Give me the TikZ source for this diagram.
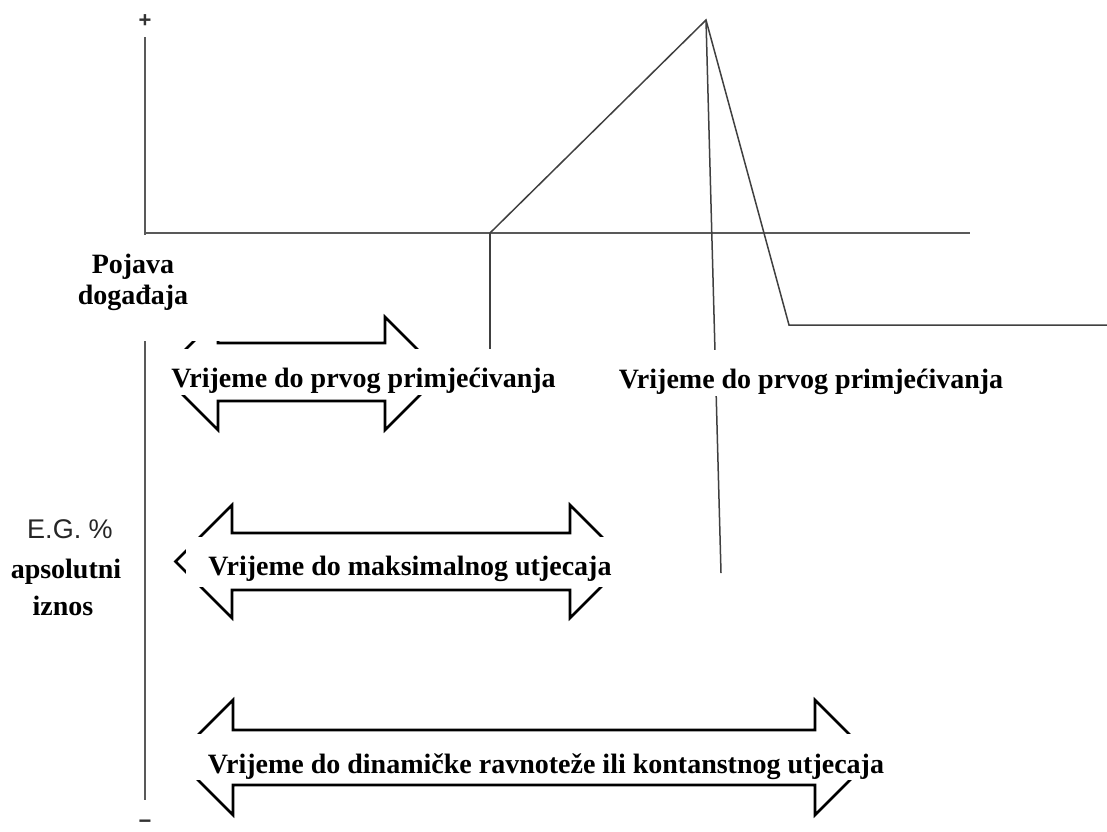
\documentclass[tikz,border=0pt]{standalone}
\usepackage{fontspec}
\setmainfont{Liberation Serif}
\setsansfont{Liberation Sans}
\begin{document}
\begin{tikzpicture}[x=1pt,y=-1pt,
  axis/.style={line width=2pt, draw=black!65},
  curve/.style={line width=1.5pt, draw=black!75, line join=miter},
  blockarrow/.style={line width=2.6pt, draw=black, line join=miter},
  lbl/.style={font=\fontsize{28}{30}\selectfont\bfseries, fill=white, inner sep=0pt, anchor=base},
  side/.style={font=\fontsize{28}{30}\selectfont\bfseries, inner sep=0pt, anchor=base},
  sign/.style={font=\sffamily\bfseries\fontsize{22}{24}\selectfont, text=black!80, inner sep=0pt},
]
\useasboundingbox (0,0) rectangle (1107,831);
\fill[white] (0,0) rectangle (1107,831);

% axes
\coordinate (O) at (145,233);
\coordinate (ytop) at (145,37);
\coordinate (ybot) at (145,800);
\coordinate (xend) at (970,233);
\draw[axis] (ytop) -- (ybot);
\draw[axis] (O) -- (xend);
\node[sign] (plus) at (145,21) {+};
\node[sign] (minus) at (145,824) {−};

% curve
\coordinate (start) at (490,233);
\coordinate (peak) at (706,20);
\coordinate (low) at (789,325);
\coordinate (lowend) at (1110,325);
\coordinate (m1) at (490,350);
\coordinate (m2) at (721,573);
\draw[curve] (start) -- (peak) -- (low) -- (lowend);
\draw[curve] (start) -- (m1);
\draw[curve] (peak) -- (m2);

% double block arrows
\draw[blockarrow] (218,317) -- (218,343) -- (385,343) -- (385,317) -- (441.5,373.5)
  -- (385,430) -- (385,401) -- (218,401) -- (218,430) -- (161.5,373.5) -- cycle;
\draw[blockarrow] (232,505) -- (232,533) -- (570,533) -- (570,505) -- (626.5,561.5)
  -- (570,618) -- (570,590) -- (232,590) -- (232,618) -- (175.5,561.5) -- cycle;
\draw[blockarrow] (233,700) -- (233,730) -- (815,730) -- (815,700) -- (872.5,757.5)
  -- (815,815) -- (815,785) -- (233,785) -- (233,815) -- (175.5,757.5) -- cycle;

% cover behind "Pojava dogadjaja"
\node[fill=white, inner sep=0pt, minimum width=170pt, minimum height=106pt] (cover) at (137,288) {};
\node[side] (pojava) at (133,273) {Pojava};
\node[side] (dogadjaja) at (133,304) {događaja};

% arrow labels
\node[lbl, minimum width=413pt, text height=38pt, text depth=8pt] (t1) at (363.5,387) {Vrijeme do prvog primjećivanja};
\node[lbl, minimum width=448pt, text height=38pt, text depth=12pt] (t2) at (410,575) {Vrijeme do maksimalnog utjecaja};
\node[lbl, minimum width=755pt, text height=39pt, text depth=7pt] (t3) at (546,773) {Vrijeme do dinamičke ravnoteže ili kontanstnog utjecaja};
\node[lbl, minimum width=400pt, text height=38pt, text depth=8pt] (t4) at (811,388) {Vrijeme do prvog primjećivanja};

% left axis labels
\node[inner sep=0pt, anchor=base, font=\sffamily\fontsize{27}{30}\selectfont, text=black!85] (eg) at (70,538) {E.G. \%};
\node[side] (aps) at (66,578) {apsolutni};
\node[side] (iznos) at (63,615) {iznos};
\end{tikzpicture}
\end{document}
